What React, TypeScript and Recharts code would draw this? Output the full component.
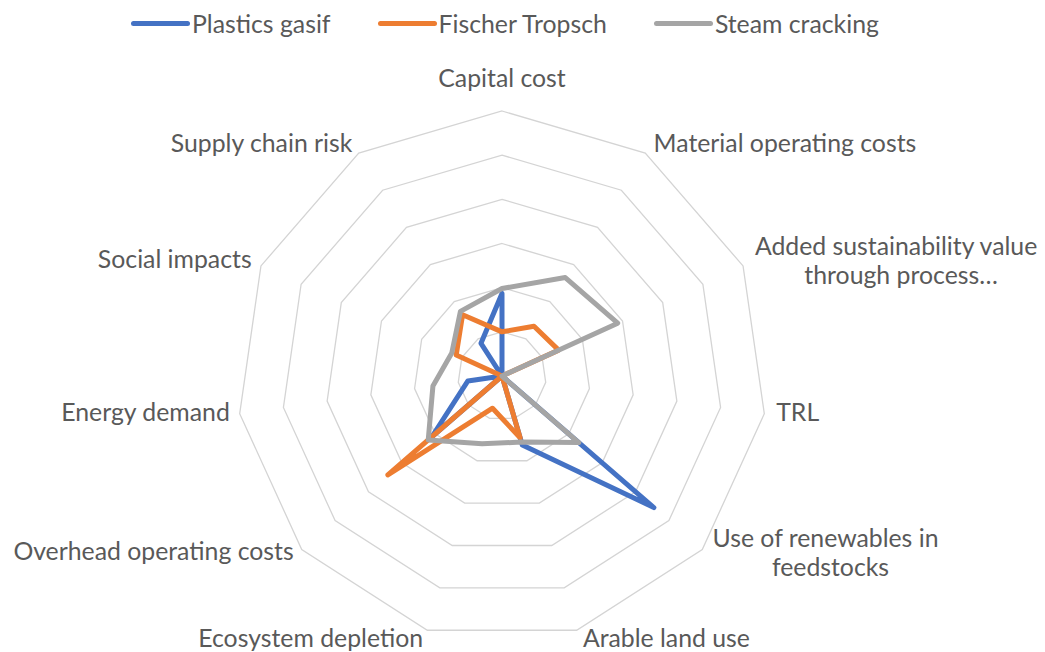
import React from 'react'
import { RadarChart, Radar, PolarGrid, PolarAngleAxis, PolarRadiusAxis } from 'recharts'

const categories = [
  'Capital cost',
  'Material operating costs',
  'Added sustainability value through process…',
  'TRL',
  'Use of renewables in feedstocks',
  'Arable land use',
  'Ecosystem depletion',
  'Overhead operating costs',
  'Energy demand',
  'Social impacts',
  'Supply chain risk',
]

// wrapped tick labels, same order as categories
const tickLines = [
  ['Capital cost'],
  ['Material operating costs'],
  ['Added sustainability value', 'through process…'],
  ['TRL'],
  ['Use of renewables in', 'feedstocks'],
  ['Arable land use'],
  ['Ecosystem depletion'],
  ['Overhead operating costs'],
  ['Energy demand'],
  ['Social impacts'],
  ['Supply chain risk'],
]

// null = empty cell (gap in the line)
const plasticsGasif = [1.87, null, 0, 0, 4.55, 1.63, 0, 2.1, 0.78, 0, 0.88]
const fischerTropsch = [1.0, 1.34, 1.41, 0, 0, 1.46, 0.76, 3.42, 0, 1.14, 1.65]
const steamCracking = [1.98, 2.65, 2.88, 0, 2.3, 1.56, 1.6, 2.21, 1.58, 1.25, 1.74]

const seriesNames = ['Plastics gasif', 'Fischer Tropsch', 'Steam cracking']
const seriesKeys = ['plastics', 'fischer', 'steam']
const seriesColors = ['#4472C4', '#ED7D31', '#A5A5A5']

const radiusDomain = [0, 6]

const data = categories.map((category, i) => ({
  category,
  plastics: plasticsGasif[i],
  fischer: fischerTropsch[i],
  steam: steamCracking[i],
}))

const W = 1045
const H = 652
const CX = 502
const CY = 376
const FONT = 'Lato, "Open Sans", sans-serif'
const FONT_SIZE = 24.8
const LINE_H = 29
const TEXT_COLOR = '#595959'

let measureCtx: CanvasRenderingContext2D | null = null
function measure(text: string) {
  if (!measureCtx) measureCtx = document.createElement('canvas').getContext('2d')
  if (!measureCtx) return text.length * FONT_SIZE * 0.5
  measureCtx.font = `${FONT_SIZE}px Lato`
  return measureCtx.measureText(text).width
}

function AxisTick(props: any) {
  const { x, y, payload, textAnchor } = props
  const idx = categories.indexOf(payload.value)
  const lines = idx >= 0 ? tickLines[idx] : [String(payload.value)]
  let dy = -3
  if (textAnchor === 'middle') dy = y < CY ? -25 : 25
  else if (y > CY + 200) dy = 0
  else if (lines.length > 1) dy = -2
  const dx = textAnchor === 'start' ? 4 : textAnchor === 'end' ? -2 : 0
  const base = FONT_SIZE * 0.35

  if (lines.length === 1) {
    return (
      <text x={x + dx} y={y + dy + base} textAnchor={textAnchor} fill={TEXT_COLOR} fontSize={FONT_SIZE} fontFamily={FONT}>
        {lines[0]}
      </text>
    )
  }
  const maxW = Math.max(...lines.map(measure))
  const mid = textAnchor === 'start' ? x + dx + maxW / 2 : textAnchor === 'end' ? x + dx - maxW / 2 : x
  return (
    <text textAnchor="middle" fill={TEXT_COLOR} fontSize={FONT_SIZE} fontFamily={FONT}>
      {lines.map((line, i) => (
        <tspan key={line} x={mid + i * 5} y={y + dy + base + (i - (lines.length - 1) / 2) * LINE_H}>
          {line}
        </tspan>
      ))}
    </text>
  )
}

export default function App() {
  return (
    <div style={{ position: 'absolute', left: 0, top: 0, width: W, height: H, background: '#fff' }}>
      <div
        style={{
          position: 'absolute',
          left: 131,
          top: 8,
          display: 'flex',
          gap: 47,
          fontFamily: FONT,
          fontSize: FONT_SIZE,
          color: TEXT_COLOR,
          zIndex: 2,
        }}
      >
        {seriesNames.map((name, i) => (
          <div key={name} style={{ display: 'flex', alignItems: 'center', height: 30 }}>
            <span
              style={{
                display: 'inline-block',
                width: 59,
                height: 5,
                borderRadius: 3,
                background: seriesColors[i],
                marginRight: 2,
              }}
            />
            <span>{name}</span>
          </div>
        ))}
      </div>
      <RadarChart
        width={W}
        height={H}
        data={data}
        cx={CX}
        cy={CY}
        outerRadius={265}
        margin={{ top: 0, right: 0, bottom: 0, left: 0 }}
      >
        <PolarGrid gridType="polygon" radialLines={false} stroke="#d4d4d4" strokeWidth={1.3} />
        <PolarAngleAxis dataKey="category" tick={<AxisTick />} tickLine={false} axisLine={false} tickSize={8} />
        <PolarRadiusAxis domain={radiusDomain} tickCount={7} tick={false} axisLine={false} />
        {seriesKeys.map((key, i) => (
          <Radar
            key={key}
            name={seriesNames[i]}
            dataKey={key}
            stroke={seriesColors[i]}
            strokeWidth={5}
            strokeLinejoin="round"
            fill="none"
            fillOpacity={0}
            dot={false}
            isAnimationActive={false}
          />
        ))}
      </RadarChart>
    </div>
  )
}
